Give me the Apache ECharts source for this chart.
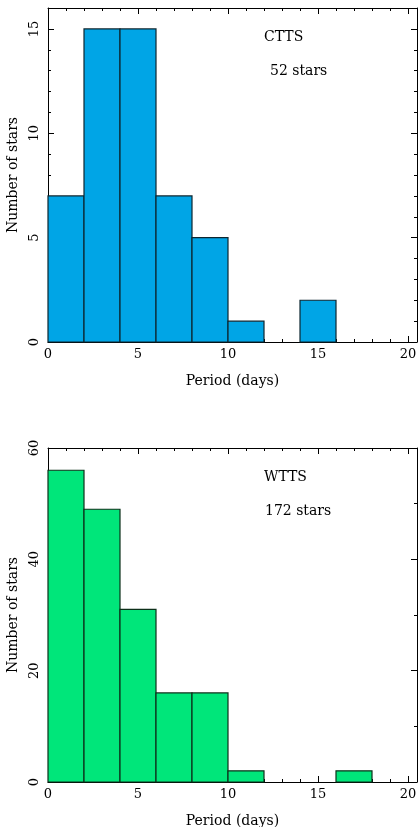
<!DOCTYPE html>
<html>
<head>
<meta charset="utf-8">
<script src="https://cdn.jsdelivr.net/npm/echarts@6/dist/echarts.min.js"></script>
<style>
  html, body { margin: 0; padding: 0; background: #fff; }
  #chart { width: 419px; height: 827px; }
</style>
</head>
<body>
<div id="chart"></div>
<script>
// histogram bins (days)
const binStart = [0, 2, 4, 6, 8, 10, 12, 14, 16, 18];
const binEnd = [2, 4, 6, 8, 10, 12, 14, 16, 18, 20];
const cttsCounts = [7, 15, 15, 7, 5, 1, 0, 2, 0, 0];
const wttsCounts = [56, 49, 31, 16, 16, 2, 0, 0, 2, 0];
const xTicks = [0, 5, 10, 15, 20];

const FONT = 'DejaVu Serif';

const makeData = (counts) => binStart.map((s, i) => [s, binEnd[i], counts[i]]).filter(d => d[2] > 0);

const renderItem = (params, api) => {
    var p0 = api.coord([api.value(0), api.value(2)]);
    var p1 = api.coord([api.value(1), 0]);
    return {
        type: 'rect',
        shape: { x: p0[0], y: p0[1], width: p1[0] - p0[0], height: p1[1] - p0[1] },
        style: api.style()
    };
};

const xAxisPair = (gi) => {
    var base = {
        gridIndex: gi, type: 'value', min: 0, max: 20.5, interval: 5,
        axisLine: { show: true, onZero: false, lineStyle: { color: '#000', width: 1 } },
        axisTick: { show: true, inside: true, length: 6, lineStyle: { color: '#000' } },
        minorTick: { show: true, splitNumber: 5, length: 3, lineStyle: { color: '#000' } },
        splitLine: { show: false }
    };
    return [
        Object.assign({}, base, {
            position: 'bottom', name: 'Period (days)', nameLocation: 'middle', nameGap: 32,
            nameTextStyle: { fontFamily: FONT, fontSize: 14, color: '#000' },
            axisLabel: { fontFamily: FONT, fontSize: 13, color: '#000', margin: 6, showMaxLabel: false,
                formatter: v => xTicks.includes(v) ? String(v) : '' }
        }),
        Object.assign({}, base, { position: 'top', axisLabel: { show: false } })
    ];
};

const yAxisPair = (gi, max, interval, split) => {
    var base = {
        gridIndex: gi, type: 'value', min: 0, max: max, interval: interval,
        axisLine: { show: true, onZero: false, lineStyle: { color: '#000', width: 1 } },
        axisTick: { show: true, inside: true, length: 6, lineStyle: { color: '#000' } },
        minorTick: { show: true, splitNumber: split, length: 3, lineStyle: { color: '#000' } },
        splitLine: { show: false }
    };
    return [
        Object.assign({}, base, {
            position: 'left', name: 'Number of stars', nameLocation: 'middle', nameGap: 28,
            nameTextStyle: { fontFamily: FONT, fontSize: 14, color: '#000' },
            axisLabel: { fontFamily: FONT, fontSize: 13, color: '#000', rotate: 90, margin: 7,
                formatter: v => (v % interval === 0 ? String(v) : '') }
        }),
        Object.assign({}, base, { position: 'right', axisLabel: { show: false } })
    ];
};

const chart = echarts.init(document.getElementById('chart'));
chart.setOption({
    animation: false,
    backgroundColor: '#fff',
    grid: [
        { left: 48, right: 2, top: 8, height: 334, outerBoundsMode: 'none', containLabel: false },
        { left: 48, right: 2, top: 448, height: 334, outerBoundsMode: 'none', containLabel: false }
    ],
    xAxis: [...xAxisPair(0), ...xAxisPair(1)],
    yAxis: [...yAxisPair(0, 16, 5, 5), ...yAxisPair(1, 60, 20, 2)],
    series: [
        {
            type: 'custom', name: 'CTTS', xAxisIndex: 0, yAxisIndex: 0,
            renderItem: renderItem, encode: { x: [0, 1], y: 2 },
            itemStyle: { color: '#00a5e6', borderColor: '#0d2630', borderWidth: 1.2 },
            data: makeData(cttsCounts)
        },
        {
            type: 'custom', name: 'WTTS', xAxisIndex: 2, yAxisIndex: 2,
            renderItem: renderItem, encode: { x: [0, 1], y: 2 },
            itemStyle: { color: '#00e67a', borderColor: '#0d301a', borderWidth: 1.2 },
            data: makeData(wttsCounts)
        }
    ],
    graphic: [
        { type: 'text', left: 264, top: 30, style: { text: 'CTTS', font: '14px "DejaVu Serif"', fill: '#000' } },
        { type: 'text', left: 270, top: 64, style: { text: '52 stars', font: '14px "DejaVu Serif"', fill: '#000' } },
        { type: 'text', left: 264, top: 470, style: { text: 'WTTS', font: '14px "DejaVu Serif"', fill: '#000' } },
        { type: 'text', left: 265, top: 504, style: { text: '172 stars', font: '14px "DejaVu Serif"', fill: '#000' } }
    ]
});
</script>
</body>
</html>
